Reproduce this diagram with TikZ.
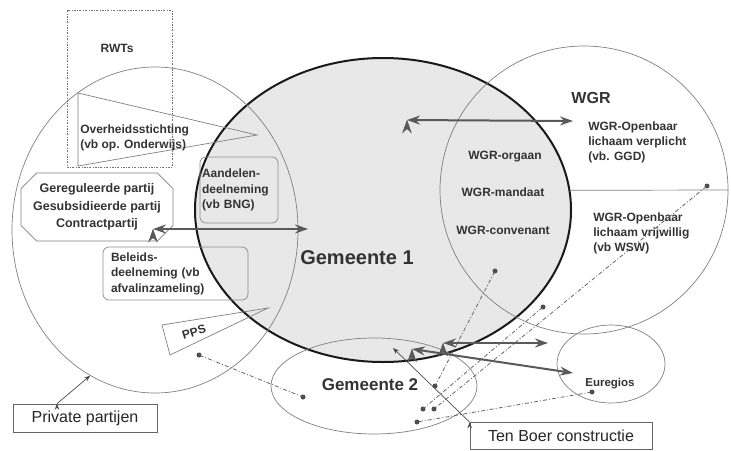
\documentclass[tikz,border=0pt]{standalone}
\usepackage{fontspec}
\setmainfont{Liberation Sans}
\usetikzlibrary{shapes.geometric,shapes.misc,arrows.meta}

\tikzstyle{zone} = [ellipse, draw=black!50, line width=0.7pt, inner sep=0pt]
\tikzstyle{lbl} = [font=\bfseries\fontsize{12}{15}\selectfont, text=black!80, align=left, inner sep=0pt]
\tikzstyle{sbox} = [rectangle, rounded corners=6pt, draw=black!45, line width=0.7pt, font=\bfseries\fontsize{12}{15.5}\selectfont, text=black!80, align=left]
\tikzstyle{tagbox} = [rectangle, draw=black!60, line width=0.7pt, font=\fontsize{16}{18}\selectfont, text=black!85]
\tikzstyle{endpt} = [circle, fill=black!70, inner sep=0pt, minimum size=5pt]
\tikzstyle{link} = [draw=black!60, line width=0.8pt, dash pattern=on 4pt off 2pt on 1pt off 2pt, shorten >=-2pt, shorten <=-2pt]
\tikzstyle{flow} = [{Stealth[length=13pt,width=9pt]}-{Stealth[length=13pt,width=9pt]}, draw=black!65, fill=black!65, line width=2pt]

\begin{document}
\begin{tikzpicture}[x=1pt,y=-1pt,>=Stealth,semithick]
  \useasboundingbox (0,0) rectangle (731,450);

  % gemeenten en samenwerkingsvormen
  \node[zone, fill=black!9, draw=black!90, line width=2pt, minimum width=376pt, minimum height=304pt] (gem1) at (383,210) {};
  \node[zone, minimum width=286pt, minimum height=326pt] (priv) at (155,230) {};
  \node[zone, minimum size=288pt] (wgr) at (584,190) {};
  \node[zone, minimum width=206pt, minimum height=96pt] (gem2) at (374,386) {};
  \node[zone, minimum width=108pt, minimum height=78pt] (eureg) at (611,364) {};
  \draw[black!50, line width=0.7pt] (gem1.6) -- (wgr.east);

  % RWTs, stichting en PPS
  \draw[black!55, line width=0.7pt, dash pattern=on 2pt off 1.5pt on 0.6pt off 1.5pt] (67,10) rectangle (172,167);
  \draw[black!50, line width=0.7pt] (78,93) -- (257,135) -- (78,166) -- cycle;
  \draw[black!50, line width=0.7pt] (162,325) -- (268,308) -- (170,355) -- cycle;

  \node[lbl] (rwts) at (117,48) {RWTs};
  \node[lbl, anchor=west] (ovh) at (80,138) {Overheidsstichting\\(vb op. Onderwijs)};
  \node[lbl, align=center, font=\bfseries\fontsize{12.5}{17.5}\selectfont, chamfered rectangle, chamfered rectangle xsep=12pt, draw=black!50, line width=0.7pt, minimum width=146pt, minimum height=68pt] (gereg) at (97,207) {Gereguleerde partij\\Gesubsidieerde partij\\Contractpartij};
  \node[sbox, minimum width=78pt, minimum height=66pt, text width=74pt, inner xsep=2pt] (aand) at (239,190) {Aandelen-\\deelneming\\(vb BNG)};
  \node[sbox, minimum width=145pt, minimum height=53pt, text width=129pt, inner xsep=8pt] (bel) at (175.5,273.5) {Beleids-\\deelneming (vb\\afvalinzameling)};
  \node[lbl, font=\bfseries\fontsize{12}{14}\selectfont, rotate=17] (pps) at (194,332) {PPS};

  \node[lbl, font=\bfseries\fontsize{20}{24}\selectfont] (gem1lbl) at (357,258) {Gemeente 1};
  \node[lbl, font=\bfseries\fontsize{17}{20}\selectfont] (gem2lbl) at (370,385) {Gemeente 2};
  \node[lbl, font=\bfseries\fontsize{16}{18}\selectfont] (wgrlbl) at (591,98) {WGR};
  \node[lbl, anchor=west] (verpl) at (588,142) {WGR-Openbaar\\lichaam verplicht\\(vb. GGD)};
  \node[lbl, anchor=west] (vrijw) at (593,233) {WGR-Openbaar\\lichaam vrijwillig\\(vb WSW)};
  \node[lbl] (orgaan) at (505,157) {WGR-orgaan};
  \node[lbl] (mandaat) at (503,192) {WGR-mandaat};
  \node[lbl] (conv) at (503,230) {WGR-convenant};
  \node[lbl, font=\bfseries\fontsize{11.5}{13}\selectfont] (euregl) at (610,384) {Euregios};

  \node[tagbox, minimum width=144pt, minimum height=28pt] (privbox) at (85,418) {Private partijen};
  \node[tagbox, minimum width=182pt, minimum height=27pt] (tenboer) at (561,436) {Ten Boer constructie};

  % relaties
  \coordinate (wgrL) at (407,120);
  \coordinate (wgrR) at (573,121);
  \coordinate (conL) at (153,229);
  \coordinate (conR) at (308,229);
  \coordinate (g2L) at (443,343);
  \coordinate (g2R) at (548,343);
  \coordinate (euL) at (412,349);
  \coordinate (euR) at (573,373);
  \coordinate (tbTip) at (393,348);

  \path[flow] (wgrL) edge (wgrR);
  \path[flow] (conL) edge (conR);
  \path[flow] (g2L) edge (g2R);
  \path[flow] (euL) edge (euR);

  \path[->, draw=black!70, line width=0.7pt] ([xshift=-28pt]privbox.north) edge (priv.246);
  \path[->, draw=black!70, line width=0.7pt] (tenboer.north west) edge (tbTip);

  % ten boer verbindingen
  \node[endpt] (p1) at (199,355) {};
  \node[endpt] (p2) at (303,397) {};
  \node[endpt] (p3) at (495,271) {};
  \node[endpt] (p4) at (435,386) {};
  \node[endpt] (p5) at (543,307) {};
  \node[endpt] (p6) at (423,409) {};
  \node[endpt] (p7) at (707,186) {};
  \node[endpt] (p8) at (434,409) {};
  \node[endpt] (p9) at (592,392) {};
  \node[endpt] (p10) at (417,422) {};

  \path[link] (p1) edge (p2);
  \path[link] (p3) edge (p4);
  \path[link] (p5) edge (p6);
  \path[link] (p7) edge (p8);
  \path[link] (p9) edge (p10);
\end{tikzpicture}
\end{document}
